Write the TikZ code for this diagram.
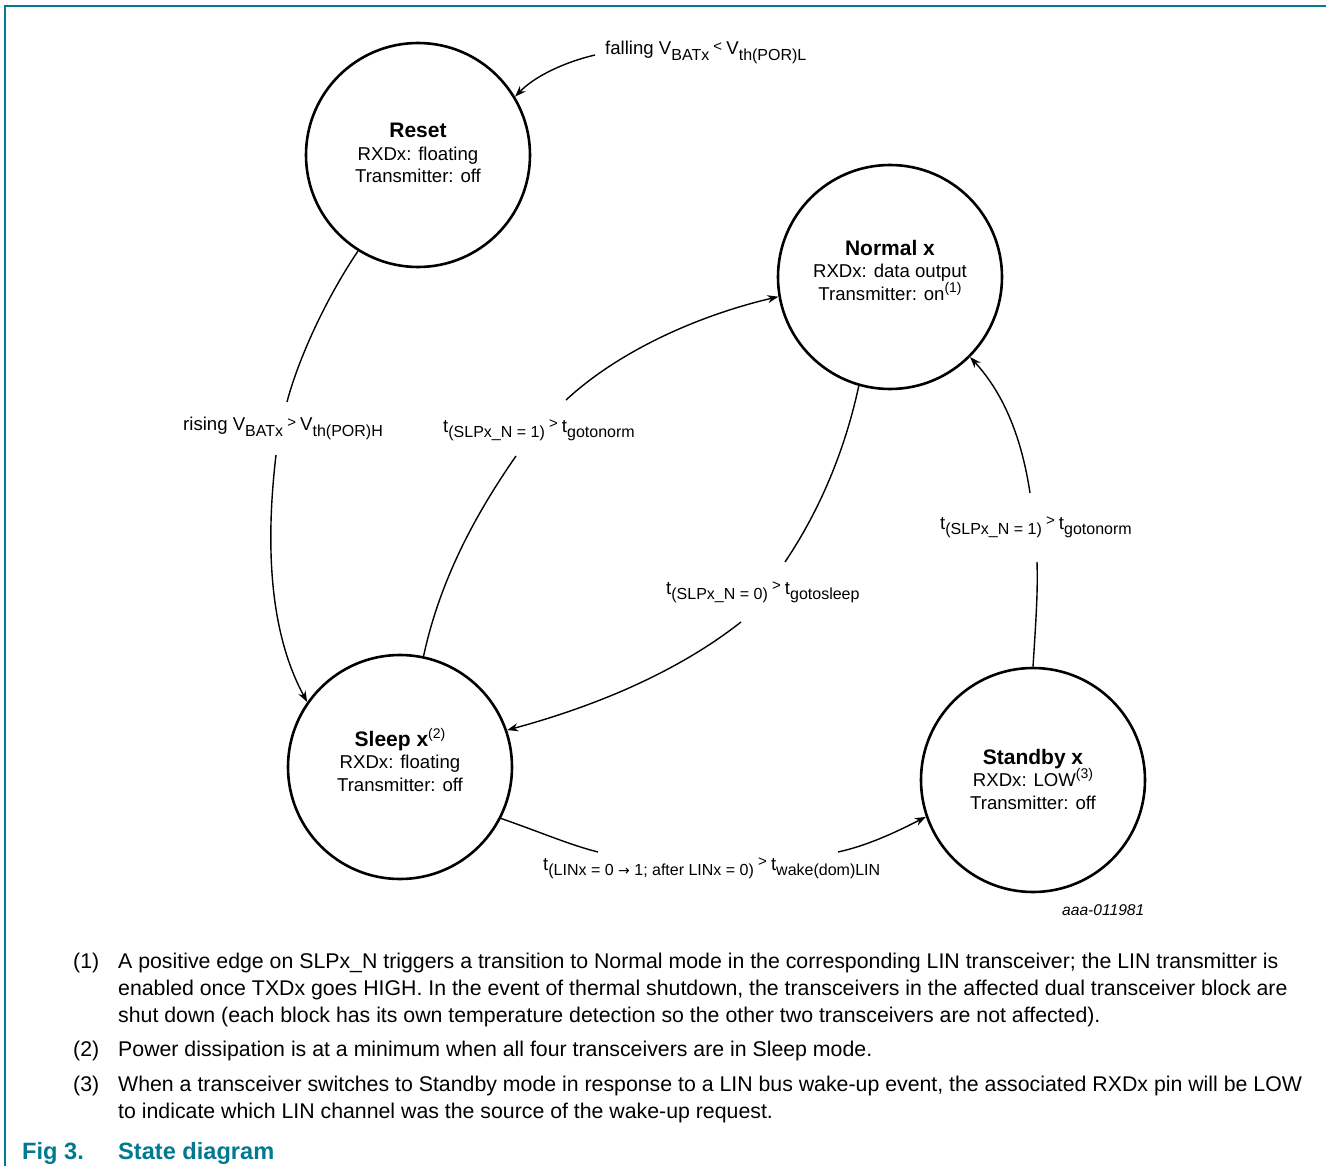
\documentclass[tikz,border=0pt]{standalone}
\usepackage{fontspec}
\setmainfont{Liberation Sans}
\newfontfamily\mysymfont{DejaVu Sans}
\usetikzlibrary{arrows.meta}
\definecolor{nxpteal}{RGB}{0,121,145}
\newcommand{\mysub}[1]{\raisebox{-0.28em}{\fontsize{16}{16}\selectfont #1}}
\newcommand{\mysup}[1]{\raisebox{0.42em}{\fontsize{14}{14}\selectfont #1}}
\newcommand{\myrel}[1]{\raisebox{0.2em}{\fontsize{15}{15}\selectfont\ #1\ }}
\begin{document}
\begin{tikzpicture}[x=1pt,y=-1pt,
  state/.style={circle,draw,line width=2.6pt,minimum size=224pt,inner sep=0pt},
  txt/.style={font=\fontsize{18.6}{22.5}\selectfont,align=center,inner sep=0pt},
  lbl/.style={font=\fontsize{18.6}{22.5}\selectfont,inner sep=0pt,anchor=base west},
  conn/.style={line width=1.4pt},
  arr/.style={conn,-{Stealth[length=11pt,width=8pt]}},
  foot/.style={font=\fontsize{21.3}{27}\selectfont,inner sep=0pt,anchor=base west}
]
\useasboundingbox (0,0) rectangle (1326,1166);
% frame
\draw[nxpteal,line width=2pt] (5,1166) -- (5,6) -- (1326,6);

% states
\node[state] (reset) at (418,155) {};
\node[state] (normal) at (890,277) {};
\node[state] (sleep) at (400,767) {};
\node[state] (standby) at (1033,780) {};

\node[txt] (resettxt) at (418,153) {{\bfseries\fontsize{21}{22.5}\selectfont Reset}\\RXDx: floating\\Transmitter: off};
\node[txt] (normaltxt) at (890,270) {{\bfseries\fontsize{21}{22.5}\selectfont Normal x}\\RXDx: data output\\Transmitter: on\mysup{(1)}};
\node[txt] (sleeptxt) at (400,760) {{\bfseries\fontsize{21}{22.5}\selectfont Sleep x}\mysup{(2)}\\RXDx: floating\\Transmitter: off};
\node[txt] (standbytxt) at (1033,779) {{\bfseries\fontsize{21}{22.5}\selectfont Standby x}\\RXDx: LOW\mysup{(3)}\\Transmitter: off};

% labels
\node[lbl] (falling) at (605,55) {falling V\mysub{BATx}\myrel{<}V\mysub{th(POR)L}};
\node[lbl] (rising) at (183,431) {rising V\mysub{BATx}\myrel{>}V\mysub{th(POR)H}};
\node[lbl] (norm1) at (443,432) {t\mysub{(SLPx\_N = 1)}\myrel{>}t\mysub{gotonorm}};
\node[lbl] (gosleep) at (666,594) {t\mysub{(SLPx\_N = 0)}\myrel{>}t\mysub{gotosleep}};
\node[lbl] (norm2) at (940,529) {t\mysub{(SLPx\_N = 1)}\myrel{>}t\mysub{gotonorm}};
\node[lbl] (wake) at (543,870) {t\mysub{(LINx = 0 {\mysymfont\fontsize{14}{14}\selectfont →} 1; after LINx = 0)}\myrel{>}t\mysub{wake(dom)LIN}};
\node[lbl,font=\itshape\fontsize{15.6}{18}\selectfont] (code) at (1062,915) {aaa-011981};

% free ends of connectors beside labels
\coordinate (fa) at (595,55);
\coordinate (ra) at (287,402);
\coordinate (rb) at (276,455);
\coordinate (na) at (516,456);
\coordinate (nb) at (566,400);
\coordinate (sa) at (785,562);
\coordinate (sb) at (741,622);
\coordinate (ta) at (1037,562);
\coordinate (tb) at (1030,493);
\coordinate (wa) at (598,852);
\coordinate (wb) at (838,852);

% connectors
\draw[arr] (fa) .. controls (565,62) and (535,76) .. (reset.31);
\draw[conn] (reset.238) .. controls (325,300) and (298,360) .. (ra);
\draw[arr] (rb) .. controls (266,540) and (268,630) .. (sleep.145);
\draw[conn] (sleep.78) .. controls (440,580) and (475,515) .. (na);
\draw[arr] (nb) .. controls (620,350) and (700,315) .. (normal.190);
\draw[conn] (normal.254) .. controls (845,450) and (820,510) .. (sa);
\draw[arr] (sb) .. controls (680,670) and (600,705) .. (sleep.19);
\draw[conn] (standby.90) .. controls (1036,620) and (1038,590) .. (ta);
\draw[arr] (tb) .. controls (1022,440) and (1005,395) .. (normal.315);
\draw[conn] (sleep.333) .. controls (540,832) and (570,845) .. (wa);
\draw[arr] (wb) .. controls (870,845) and (900,830) .. (standby.199);

% footnotes
\node[foot] (n1) at (73,968) {(1)};
\node[foot] (f1a) at (118,968) {A positive edge on SLPx\_N triggers a transition to Normal mode in the corresponding LIN transceiver; the LIN transmitter is};
\node[foot] (f1b) at (118,995) {enabled once TXDx goes HIGH. In the event of thermal shutdown, the transceivers in the affected dual transceiver block are};
\node[foot] (f1c) at (118,1022) {shut down (each block has its own temperature detection so the other two transceivers are not affected).};
\node[foot] (n2) at (73,1056) {(2)};
\node[foot] (f2a) at (118,1056) {Power dissipation is at a minimum when all four transceivers are in Sleep mode.};
\node[foot] (n3) at (73,1091) {(3)};
\node[foot] (f3a) at (118,1091) {When a transceiver switches to Standby mode in response to a LIN bus wake-up event, the associated RXDx pin will be LOW};
\node[foot] (f3b) at (118,1118) {to indicate which LIN channel was the source of the wake-up request.};

% caption
\node[foot,text=nxpteal,font=\bfseries\fontsize{23.6}{27}\selectfont] (fig) at (22,1159) {Fig 3.};
\node[foot,text=nxpteal,font=\bfseries\fontsize{23.6}{27}\selectfont] (cap) at (118,1159) {State diagram};
\end{tikzpicture}
\end{document}
